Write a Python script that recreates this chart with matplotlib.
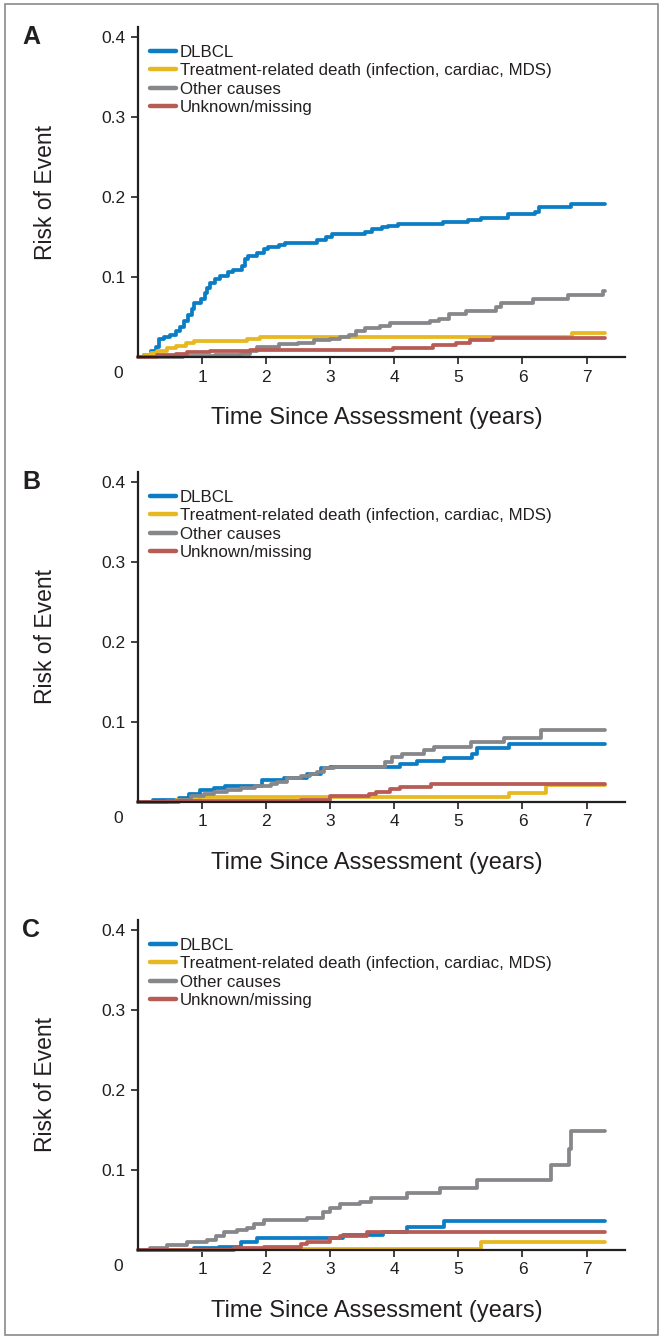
import matplotlib
matplotlib.use('Agg')
import matplotlib.pyplot as plt
from matplotlib.patches import Rectangle

plt.rcParams['font.family'] = ['Liberation Sans', 'DejaVu Sans']

# cause labels and colours
labels = ['DLBCL', 'Treatment-related death (infection, cardiac, MDS)',
          'Other causes', 'Unknown/missing']
colors = ['#0b7dc4', '#e8b820', '#86878a', '#b95b55']
panel_names = ['A', 'B', 'C']
xticks = [1, 2, 3, 4, 5, 6, 7]
yticks = [0.1, 0.2, 0.3, 0.4]

# panel A
a_dlbcl_t = [0, 0.1, 0.2, 0.28, 0.33, 0.4, 0.5, 0.6, 0.66, 0.72, 0.78, 0.84, 0.88, 0.98, 1.04,
             1.08, 1.13, 1.2, 1.28, 1.4, 1.48, 1.62, 1.67, 1.72, 1.85, 1.97, 2.03, 2.2, 2.3,
             2.8, 2.93, 3.03, 3.55, 3.65, 3.8, 3.9, 4.05, 4.76, 5.15, 5.35, 5.78, 6.2, 6.26,
             6.75, 7.29]
a_dlbcl_v = [0, 0.003, 0.007, 0.012, 0.022, 0.025, 0.028, 0.032, 0.038, 0.045, 0.052, 0.06,
             0.067, 0.072, 0.08, 0.086, 0.092, 0.097, 0.101, 0.106, 0.109, 0.113, 0.122, 0.126,
             0.13, 0.135, 0.137, 0.14, 0.142, 0.146, 0.15, 0.153, 0.156, 0.16, 0.162, 0.164,
             0.166, 0.168, 0.171, 0.174, 0.178, 0.181, 0.187, 0.191, 0.191]
a_trt_t = [0, 0.1, 0.2, 0.3, 0.45, 0.6, 0.75, 0.87, 1.7, 1.9, 6.77, 7.29]
a_trt_v = [0, 0.003, 0.005, 0.007, 0.011, 0.014, 0.017, 0.020, 0.022, 0.025, 0.0295, 0.0295]
a_oth_t = [0, 0.7, 1.2, 1.6, 1.75, 1.85, 2.2, 2.5, 2.75, 3.0, 3.15, 3.3, 3.4, 3.55, 3.77, 3.93,
           4.55, 4.7, 4.86, 5.12, 5.59, 5.67, 6.16, 6.71, 7.25, 7.29]
a_oth_v = [0, 0.001, 0.002, 0.004, 0.008, 0.013, 0.016, 0.018, 0.021, 0.023, 0.025, 0.028,
           0.033, 0.036, 0.039, 0.042, 0.045, 0.048, 0.054, 0.058, 0.063, 0.068, 0.072, 0.077,
           0.083, 0.083]
a_unk_t = [0, 0.3, 0.6, 0.76, 1.13, 1.75, 3.5, 3.98, 4.6, 4.97, 5.18, 5.54, 7.29]
a_unk_v = [0, 0.002, 0.004, 0.006, 0.0075, 0.0085, 0.009, 0.011, 0.015, 0.018, 0.021, 0.0235,
           0.0235]

# panel B
b_dlbcl_t = [0, 0.24, 0.64, 0.79, 0.97, 1.18, 1.36, 1.94, 2.28, 2.64, 2.85, 3.0, 4.09, 4.36,
             4.78, 5.22, 5.29, 5.79, 7.29]
b_dlbcl_v = [0, 0.002, 0.005, 0.01, 0.015, 0.018, 0.02, 0.027, 0.03, 0.035, 0.042, 0.044,
             0.047, 0.051, 0.055, 0.06, 0.067, 0.073, 0.073]
b_trt_t = [0, 0.6, 0.97, 5.79, 6.36, 7.29]
b_trt_v = [0, 0.002, 0.006, 0.011, 0.021, 0.021]
b_oth_t = [0, 0.64, 0.82, 1.03, 1.18, 1.39, 1.6, 1.83, 2.07, 2.17, 2.33, 2.54, 2.69, 2.8, 2.9,
           3.06, 3.86, 3.97, 4.12, 4.46, 4.62, 5.19, 5.71, 6.29, 7.29]
b_oth_v = [0, 0.003, 0.008, 0.01, 0.012, 0.015, 0.018, 0.02, 0.022, 0.025, 0.03, 0.032, 0.035,
           0.038, 0.042, 0.044, 0.05, 0.056, 0.06, 0.065, 0.069, 0.075, 0.08, 0.0895, 0.0895]
b_unk_t = [0, 0.45, 2.54, 3.0, 3.6, 3.71, 3.94, 4.09, 4.57, 7.29]
b_unk_v = [0, 0.001, 0.003, 0.007, 0.0095, 0.0125, 0.016, 0.019, 0.023, 0.023]

# panel C
c_dlbcl_t = [0, 0.87, 1.26, 1.6, 1.86, 3.2, 3.82, 4.2, 4.77, 7.29]
c_dlbcl_v = [0, 0.002, 0.004, 0.01, 0.015, 0.019, 0.023, 0.029, 0.036, 0.036]
c_trt_t = [0, 1.5, 2.0, 5.35, 7.29]
c_trt_v = [0, 0.001, 0.0015, 0.0105, 0.0105]
c_oth_t = [0, 0.19, 0.45, 0.77, 1.08, 1.21, 1.34, 1.55, 1.7, 1.81, 1.96, 2.64, 2.88, 3.0, 3.16,
           3.47, 3.63, 4.2, 4.72, 5.29, 6.44, 6.73, 6.76, 7.29]
c_oth_v = [0, 0.002, 0.006, 0.01, 0.013, 0.018, 0.023, 0.025, 0.028, 0.033, 0.037, 0.04, 0.048,
           0.052, 0.057, 0.06, 0.065, 0.071, 0.078, 0.0875, 0.106, 0.126, 0.148, 0.148]
c_unk_t = [0, 1.5, 1.96, 2.54, 2.64, 3.0, 3.16, 3.58, 7.29]
c_unk_v = [0, 0.002, 0.004, 0.008, 0.01, 0.015, 0.017, 0.023, 0.023]

panels = [
    [(a_dlbcl_t, a_dlbcl_v), (a_trt_t, a_trt_v), (a_oth_t, a_oth_v), (a_unk_t, a_unk_v)],
    [(b_dlbcl_t, b_dlbcl_v), (b_trt_t, b_trt_v), (b_oth_t, b_oth_v), (b_unk_t, b_unk_v)],
    [(c_dlbcl_t, c_dlbcl_v), (c_trt_t, c_trt_v), (c_oth_t, c_oth_v), (c_unk_t, c_unk_v)],
]

W, H = 662, 1339
fig = plt.figure(figsize=(W / 100, H / 100), dpi=100)
# thin frame round the whole figure
fig.patches.append(Rectangle((5 / W, 4 / H), 653 / W, 1331 / H, transform=fig.transFigure,
                             fill=False, edgecolor='#8a8a8a', lw=1.2))

axis_col = '#231f20'
left_px, right_px = 138, 625
bottoms_px = [357, 802, 1250]   # y pixel of x axis
height_px = 330

for i, series in enumerate(panels):
    b = bottoms_px[i]
    ax = fig.add_axes([left_px / W, 1 - b / H, (right_px - left_px) / W, height_px / H])
    for (t, v), c, lab in zip(series, colors, labels):
        ax.step(t, v, where='post', color=c, lw=2.7, label=lab,
                solid_capstyle='round', solid_joinstyle='round', clip_on=False)
    ax.set_xlim(0, 7.6)
    ax.set_ylim(0, 0.412)
    for s in ['top', 'right']:
        ax.spines[s].set_visible(False)
    for s in ['left', 'bottom']:
        ax.spines[s].set_color(axis_col)
        ax.spines[s].set_linewidth(1.6)
    ax.set_xticks(xticks)
    ax.set_yticks(yticks)
    ax.set_yticklabels(['%.1f' % y for y in yticks])
    ax.tick_params(axis='both', direction='out', length=5, width=1.2, color=axis_col,
                   labelsize=12.5, labelcolor=axis_col, pad=4)
    # shared origin label
    ax.text(-0.31, -9 / height_px, '0', transform=ax.get_xaxis_transform(),
            ha='center', va='top', fontsize=12.5, color=axis_col)
    ax.set_xlabel('Time Since Assessment (years)', fontsize=17, color=axis_col)
    ax.xaxis.set_label_coords(0.49, -50 / height_px)
    ax.set_ylabel('Risk of Event', fontsize=16.5, color=axis_col)
    ax.yaxis.set_label_coords((57 - left_px) / (right_px - left_px), 0.5)
    leg = ax.legend(loc='upper left', bbox_to_anchor=(12 / (right_px - left_px), 1 - 18 / height_px),
                    frameon=False, fontsize=12.2, handlelength=1.55, handletextpad=0.22,
                    labelspacing=0.2, borderpad=0, borderaxespad=0)
    for ln in leg.get_lines():
        ln.set_linewidth(3.2)
    for tx in leg.get_texts():
        tx.set_color(axis_col)
    fig.text(22 / W, 1 - (b - 320) / H, panel_names[i], fontsize=18, fontweight='bold',
             ha='left', va='center', color=axis_col)

fig.savefig('out.png', dpi=100)
